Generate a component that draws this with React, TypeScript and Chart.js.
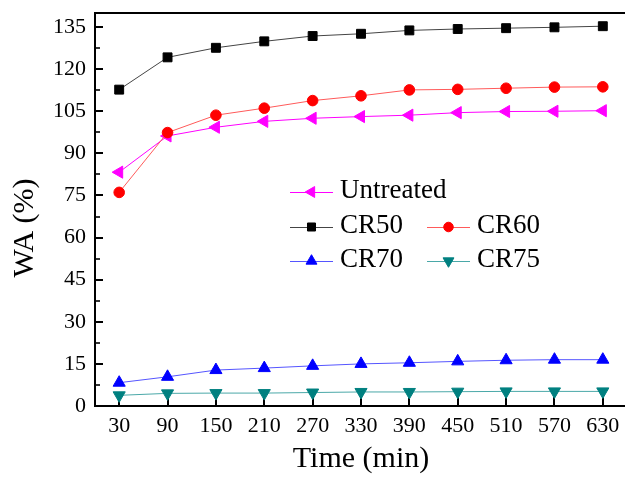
import React, { useEffect, useRef } from "react";
import { Chart, registerables } from "chart.js";
import { drawPoint } from "chart.js/helpers";

Chart.register(...registerables);

const times = [30, 90, 150, 210, 270, 330, 390, 450, 510, 570, 630];
const untreated = [83.3, 96.2, 99.3, 101.4, 102.5, 103.1, 103.6, 104.5, 104.9, 105.0, 105.2];
const cr50 = [112.7, 124.2, 127.6, 129.9, 131.8, 132.6, 133.8, 134.3, 134.6, 134.9, 135.3];
const cr60 = [76.1, 97.4, 103.6, 106.1, 108.8, 110.5, 112.6, 112.8, 113.2, 113.6, 113.7];
const cr70 = [8.3, 10.4, 12.8, 13.5, 14.3, 15.0, 15.4, 15.9, 16.3, 16.5, 16.5];
const cr75 = [3.8, 4.5, 4.6, 4.6, 4.8, 5.0, 5.0, 5.1, 5.2, 5.2, 5.2];

const yTicks = [0, 15, 30, 45, 60, 75, 90, 105, 120, 135];
const yMinorTicks = [7.5, 22.5, 37.5, 52.5, 67.5, 82.5, 97.5, 112.5, 127.5];
const xTicks = times;

const FONT = "'Liberation Serif', 'Times New Roman', serif";

type SeriesDef = {
  label: string;
  values: number[];
  line: string;
  point: string;
  style: string;
  radius: number;
  rotation: number;
};

const series: SeriesDef[] = [
  { label: "CR50", values: cr50, line: "#444444", point: "#000000", style: "rect", radius: 6.3, rotation: 0 },
  { label: "CR60", values: cr60, line: "#ff5a5a", point: "#ff0000", style: "circle", radius: 5.3, rotation: 0 },
  { label: "Untreated", values: untreated, line: "#ff00ff", point: "#ff00ff", style: "triangle", radius: 7, rotation: 270 },
  { label: "CR70", values: cr70, line: "#5555ff", point: "#0000ff", style: "triangle", radius: 7, rotation: 0 },
  { label: "CR75", values: cr75, line: "#4aa8a8", point: "#008080", style: "triangle", radius: 7, rotation: 180 },
];

const legendLayout: { label: string; col: number; row: number }[] = [
  { label: "Untreated", col: 0, row: 0 },
  { label: "CR50", col: 0, row: 1 },
  { label: "CR60", col: 1, row: 1 },
  { label: "CR70", col: 0, row: 2 },
  { label: "CR75", col: 1, row: 2 },
];

const decorPlugin = {
  id: "decor",
  beforeDatasetsDraw(chart: any) {
    const { ctx, chartArea, scales } = chart;
    const xs = scales.x;
    const ys = scales.y;
    ctx.save();
    ctx.strokeStyle = "#000";
    // top frame line
    ctx.lineWidth = 2;
    ctx.beginPath();
    ctx.moveTo(chartArea.left - 1, chartArea.top);
    ctx.lineTo(chartArea.right + 2, chartArea.top);
    ctx.stroke();
    // inward y ticks
    ctx.lineWidth = 2;
    for (const v of yTicks) {
      const p = Math.round(ys.getPixelForValue(v));
      ctx.beginPath();
      ctx.moveTo(chartArea.left, p);
      ctx.lineTo(chartArea.left + 8, p);
      ctx.stroke();
    }
    ctx.lineWidth = 1.6;
    for (const v of yMinorTicks) {
      const p = Math.round(ys.getPixelForValue(v));
      ctx.beginPath();
      ctx.moveTo(chartArea.left, p);
      ctx.lineTo(chartArea.left + 5, p);
      ctx.stroke();
    }
    // inward x ticks
    ctx.lineWidth = 2;
    for (const v of xTicks) {
      const p = Math.round(xs.getPixelForValue(v));
      ctx.beginPath();
      ctx.moveTo(p, chartArea.bottom);
      ctx.lineTo(p, chartArea.bottom - 9);
      ctx.stroke();
    }
    ctx.restore();
  },
  afterDraw(chart: any) {
    const { ctx, chartArea } = chart;
    ctx.save();
    // axis titles
    ctx.fillStyle = "#000";
    ctx.font = `30px ${FONT}`;
    ctx.textAlign = "center";
    ctx.textBaseline = "alphabetic";
    ctx.fillText("Time (min)", (chartArea.left + chartArea.right) / 2, 467);
    ctx.save();
    ctx.translate(33, 228);
    ctx.rotate(-Math.PI / 2);
    ctx.fillText("WA (%)", 0, 0);
    ctx.restore();

    // legend
    const colX = [290, 427];
    const rowY = [192, 227, 261];
    const lineLen = 43;
    ctx.font = `27px ${FONT}`;
    ctx.textAlign = "left";
    for (const item of legendLayout) {
      const s = series.find((d) => d.label === item.label)!;
      const x0 = colX[item.col];
      const y0 = rowY[item.row];
      ctx.strokeStyle = s.line;
      ctx.lineWidth = 1;
      ctx.beginPath();
      ctx.moveTo(x0, y0 + 0.5);
      ctx.lineTo(x0 + lineLen, y0 + 0.5);
      ctx.stroke();
      ctx.fillStyle = s.point;
      ctx.strokeStyle = s.point;
      drawPoint(
        ctx,
        { pointStyle: s.style as any, radius: s.radius * 0.9, rotation: s.rotation, borderWidth: 1 },
        x0 + lineLen / 2,
        y0
      );
      ctx.fillStyle = "#000";
      ctx.fillText(s.label, x0 + 50, y0 + 6);
    }
    ctx.restore();
  },
};

export default function App() {
  const ref = useRef<HTMLCanvasElement | null>(null);

  useEffect(() => {
    if (!ref.current) return;
    const chart = new Chart(ref.current, {
      type: "line",
      data: {
        datasets: series.map((s) => ({
          label: s.label,
          data: times.map((t, i) => ({ x: t, y: s.values[i] })),
          borderColor: s.line,
          backgroundColor: s.point,
          borderWidth: 1,
          pointStyle: s.style as any,
          pointRadius: s.radius,
          pointRotation: s.rotation,
          pointBackgroundColor: s.point,
          pointBorderColor: s.point,
          pointBorderWidth: 1,
          fill: false,
          tension: 0,
        })),
      },
      options: {
        responsive: false,
        animation: false,
        layout: { padding: { top: 13, right: 13, left: 0, bottom: 0 } },
        plugins: {
          legend: { display: false },
          tooltip: { enabled: false },
        },
        scales: {
          x: {
            type: "linear",
            min: 0,
            max: 660,
            grid: { display: false, drawTicks: false },
            border: { display: true, color: "#000", width: 2 },
            afterBuildTicks: (scale: any) => {
              scale.ticks = xTicks.map((v) => ({ value: v }));
            },
            afterFit: (scale: any) => {
              scale.height = 71;
              scale.paddingLeft = 0;
              scale.paddingRight = 0;
            },
            ticks: {
              color: "#000",
              padding: 7,
              font: { family: FONT, size: 22 },
              maxRotation: 0,
              autoSkip: false,
            },
          },
          y: {
            type: "linear",
            min: 0,
            max: 140,
            grid: { display: false, drawTicks: false },
            border: { display: true, color: "#000", width: 2 },
            afterBuildTicks: (scale: any) => {
              scale.ticks = yTicks.map((v) => ({ value: v }));
            },
            afterFit: (scale: any) => {
              scale.width = 95;
              scale.paddingTop = 0;
              scale.paddingBottom = 0;
            },
            ticks: {
              color: "#000",
              padding: 9,
              font: { family: FONT, size: 22 },
              autoSkip: false,
            },
          },
        },
      },
      plugins: [decorPlugin],
    });
    return () => chart.destroy();
  }, []);

  return (
    <div
      style={{
        position: "fixed",
        left: 0,
        top: 0,
        width: 625,
        height: 477,
        overflow: "hidden",
        background: "#fff",
      }}
    >
      <canvas ref={ref} width={640} height={477} style={{ display: "block" }} />
    </div>
  );
}
